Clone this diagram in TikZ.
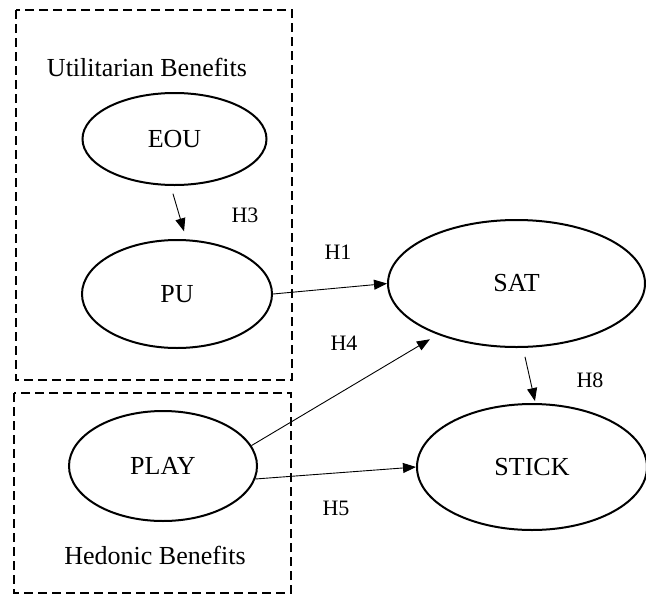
\documentclass[tikz,border=0pt]{standalone}
\usepackage{fontspec}
\setmainfont{Liberation Serif}
\usetikzlibrary{shapes.geometric,arrows.meta}
\tikzset{
  construct/.style={ellipse,draw,line width=2pt,inner sep=0pt,font=\fontsize{26}{30}\selectfont},
  grouplabel/.style={inner sep=0pt,font=\fontsize{26}{30}\selectfont},
  hyp/.style={inner sep=0pt,font=\fontsize{22}{26}\selectfont},
  groupbox/.style={draw,line width=1.8pt,dash pattern=on 9pt off 5pt},
  arr/.style={line width=0.9pt,-{Triangle[length=13pt,width=10pt]}}
}
\begin{document}
\begin{tikzpicture}[x=1pt,y=-1pt]
\useasboundingbox (0,0) rectangle (646,595);
% group boxes
\draw[groupbox] (16,10) rectangle (292,380);
\draw[groupbox] (14,393) rectangle (291,593);
\node[grouplabel] (util) at (147,67) {Utilitarian Benefits};
\node[grouplabel] (hed) at (155,555) {Hedonic Benefits};
% constructs
\node[construct,minimum width=184pt,minimum height=92pt] (EOU) at (174.5,139) {EOU};
\node[construct,minimum width=190pt,minimum height=108pt] (PU) at (177,294) {PU};
\node[construct,minimum width=188pt,minimum height=110pt] (PLAY) at (163,466) {PLAY};
\node[construct,minimum width=257pt,minimum height=127pt] (SAT) at (516.5,283.5) {SAT};
\node[construct,minimum width=230pt,minimum height=126pt] (STICK) at (532,467) {STICK};
% connectors
\draw[arr,shorten <=8pt,shorten >=8pt] ([xshift=-3.8pt]EOU.south) -- ([xshift=9.3pt]PU.north);
\draw[arr] (PU.east) -- (SAT.west);
\draw[arr,shorten >=9pt] (PLAY.13) -- (SAT.213);
\draw[arr] (PLAY.-8) -- (STICK.west);
\draw[arr,shorten <=9pt,shorten >=2pt] ([xshift=6.5pt]SAT.south) -- ([xshift=3.4pt]STICK.north);
% hypothesis labels
\node[hyp] (H3) at (245,215) {H3};
\node[hyp] (H1) at (338,252) {H1};
\node[hyp] (H4) at (344,343) {H4};
\node[hyp] (H8) at (590,380) {H8};
\node[hyp] (H5) at (336,508) {H5};
\end{tikzpicture}
\end{document}
